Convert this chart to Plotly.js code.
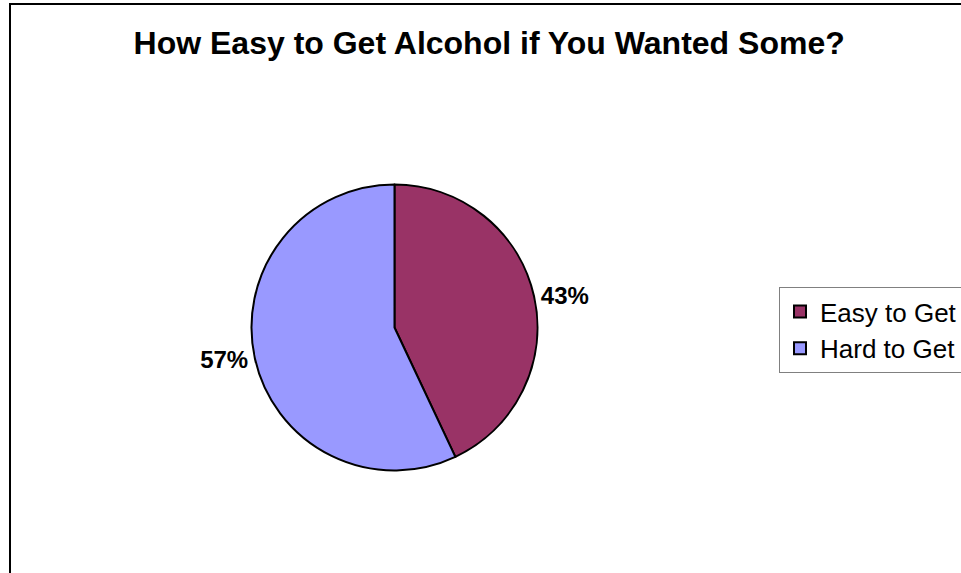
<!DOCTYPE html>
<html>
<head>
<meta charset="utf-8">
<script src="https://cdn.plot.ly/plotly-3.0.1.min.js"></script>
<style>
  html, body { margin: 0; padding: 0; background: #ffffff; }
  #chart { width: 961px; height: 573px; }
</style>
</head>
<body>
<div id="chart"></div>
<script>
const chartTitle = 'How Easy to Get Alcohol if You Wanted Some?';
const categories = ['Easy to Get', 'Hard to Get'];
const values = [43, 57];
const sliceColors = ['#993366', '#9999FF'];

const FONT = 'Arial, "Liberation Sans", sans-serif';

const data = [{
  type: 'pie',
  labels: categories,
  values: values,
  sort: false,
  direction: 'clockwise',
  rotation: 0,
  marker: { colors: sliceColors, line: { color: '#000000', width: 2 } },
  textinfo: 'percent',
  textposition: 'outside',
  textfont: { family: FONT, size: 24, color: '#000000', weight: 'bold' },
  outsidetextfont: { family: FONT, size: 24, color: '#000000', weight: 'bold' },
  hoverinfo: 'label+percent',
  automargin: false,
  domain: { x: [0.2617, 0.5593], y: [0.1789, 0.678] }
}];

const layout = {
  width: 961,
  height: 573,
  margin: { l: 0, r: 0, t: 0, b: 0, autoexpand: false },
  paper_bgcolor: '#ffffff',
  plot_bgcolor: '#ffffff',
  font: { family: FONT, color: '#000000' },
  title: {
    text: '<b>' + chartTitle + '</b>',
    font: { family: FONT, size: 32, color: '#000000' },
    x: 0.509,
    xanchor: 'center',
    xref: 'paper',
    y: 1 - 43 / 573,
    yref: 'container',
    yanchor: 'middle'
  },
  showlegend: true,
  legend: {
    x: 779 / 961,
    xanchor: 'left',
    y: 1 - 287 / 573,
    yanchor: 'top',
    bgcolor: '#ffffff',
    bordercolor: '#808080',
    borderwidth: 1,
    font: { family: FONT, size: 26, color: '#000000' }
  },
  shapes: [{
    type: 'rect',
    xref: 'paper', yref: 'paper',
    x0: 10 / 961, x1: 1.05,
    y0: -0.1, y1: 1 - 4 / 573,
    line: { color: '#000000', width: 2 },
    fillcolor: 'rgba(0,0,0,0)',
    layer: 'below'
  }]
};

Plotly.newPlot('chart', data, layout, { displayModeBar: false, staticPlot: true });
</script>
</body>
</html>
